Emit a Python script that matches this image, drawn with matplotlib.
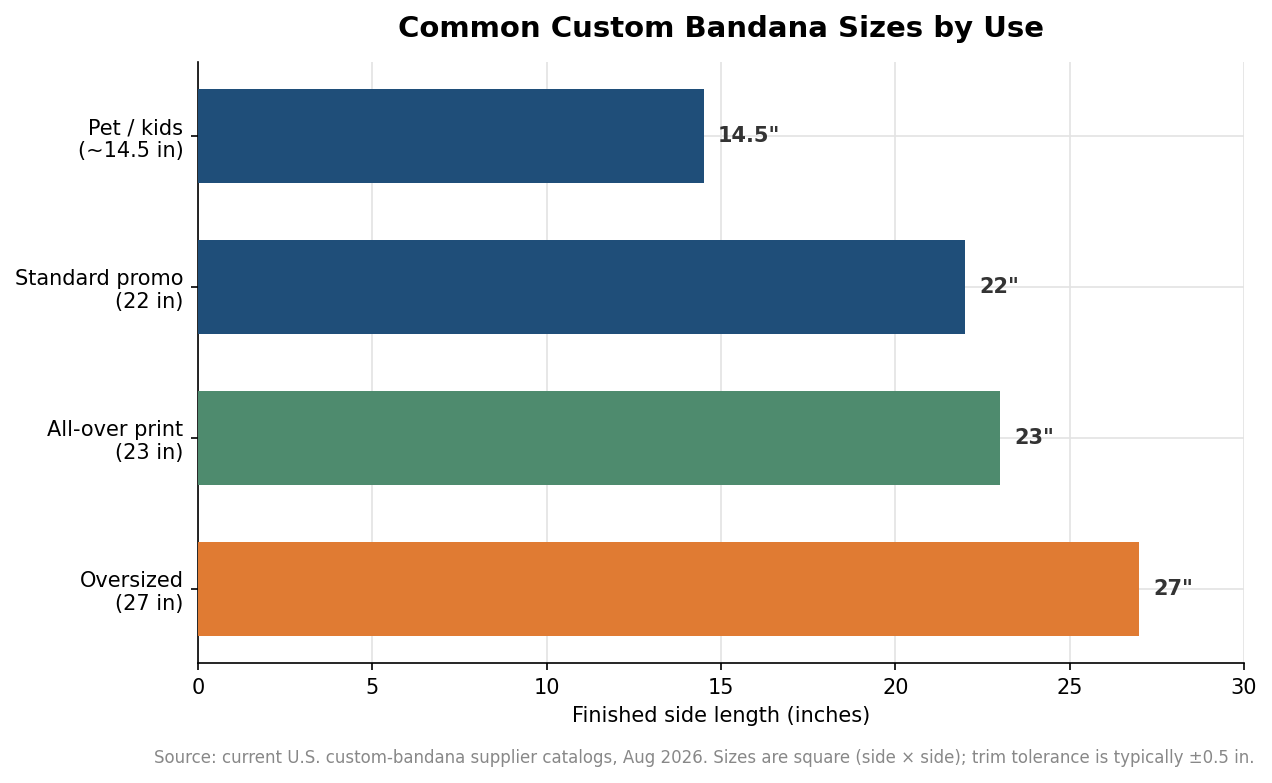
import matplotlib
matplotlib.use('Agg')
import matplotlib.pyplot as plt

categories = ['Pet / kids\n(~14.5 in)', 'Standard promo\n(22 in)',
              'All-over print\n(23 in)', 'Oversized\n(27 in)']
sizes = [14.5, 22, 23, 27]
value_labels = ['14.5"', '22"', '23"', '27"']
bar_colors = ['#1f4e79', '#1f4e79', '#4e8b6e', '#e07b33']

fig = plt.figure(figsize=(8.48, 5.22), dpi=150)
ax = fig.add_axes([0.1557, 0.1533, 0.8223, 0.7675])

y = range(len(categories))
ax.barh(y, sizes, color=bar_colors, height=0.62, zorder=3)
for yi, val, lab in zip(y, sizes, value_labels):
    ax.text(val + 0.4, yi, lab, va='center', ha='left', fontsize=10,
            fontweight='bold', color='#333333', zorder=4)

ax.set_yticks(list(y))
ax.set_yticklabels(categories, fontsize=10)
ax.set_ylim(3.49, -0.49)
ax.set_xlim(0, 30)
ax.set_xticks(range(0, 31, 5))
ax.tick_params(axis='x', labelsize=10)
ax.set_xlabel('Finished side length (inches)', fontsize=10)
ax.grid(True, color='#e3e3e3', linewidth=0.8, zorder=0)
ax.spines['top'].set_visible(False)
ax.spines['right'].set_visible(False)
ax.set_title('Common Custom Bandana Sizes by Use', fontsize=14,
             fontweight='bold', pad=12)

fig.text(0.986, 0.032, 'Source: current U.S. custom-bandana supplier catalogs, Aug 2026. '
         'Sizes are square (side \u00d7 side); trim tolerance is typically \u00b10.5 in.',
         ha='right', va='center', fontsize=8, color='#888888')

fig.savefig('out.png', dpi=150)
